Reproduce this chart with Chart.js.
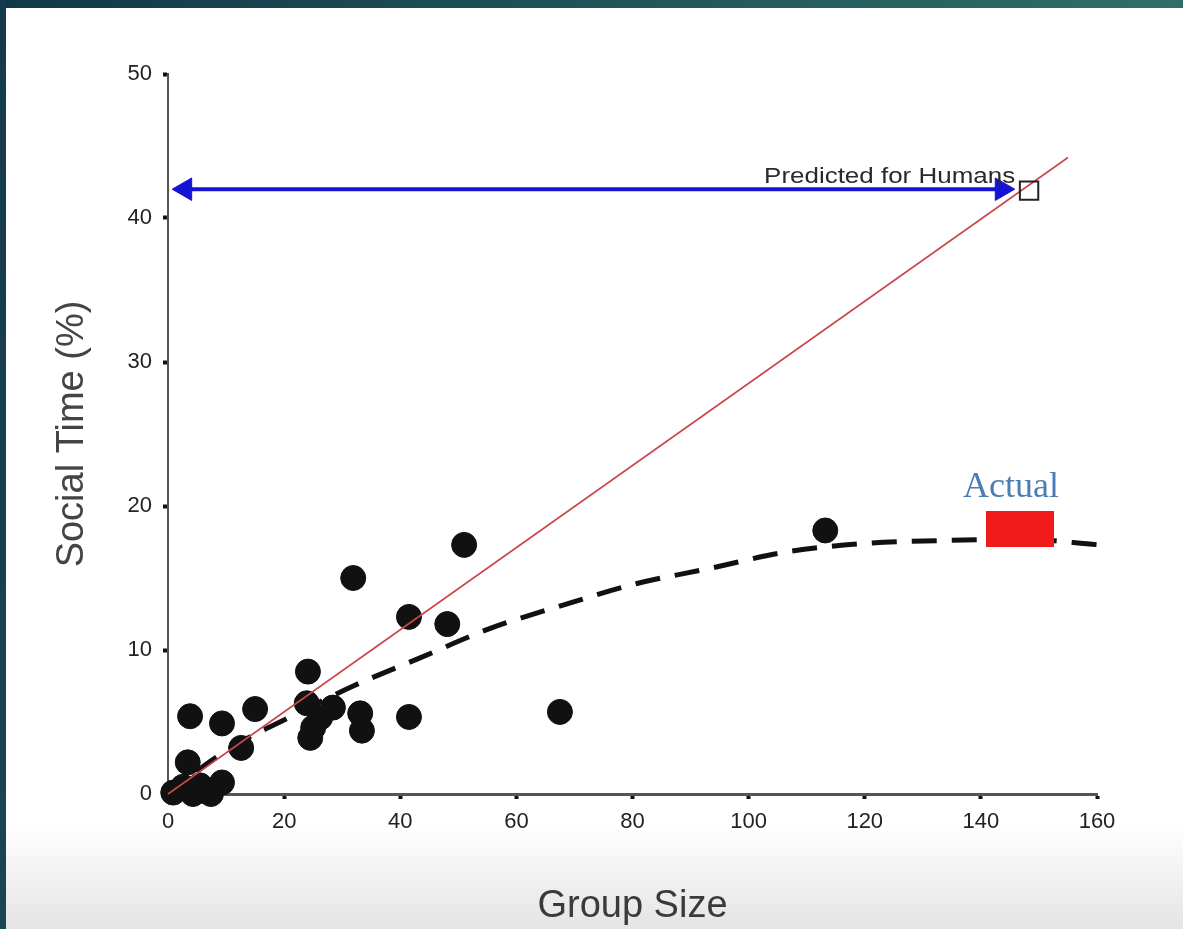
<!DOCTYPE html>
<html>
<head>
<meta charset="utf-8">
<script src="https://cdn.jsdelivr.net/npm/chart.js@4.4.1/dist/chart.umd.min.js"></script>
<style>
html,body{margin:0;padding:0;background:#fff;overflow:hidden}
#wrap{position:relative;width:1183px;height:929px;background:linear-gradient(to bottom,#ffffff 0,#ffffff 825px,#e4e4e4 929px)}
#topband{position:absolute;left:0;top:0;width:1183px;height:8px;background:linear-gradient(to right,#113849,#2f6f68)}
#leftband{position:absolute;left:0;top:0;width:6px;height:929px;background:linear-gradient(to bottom,#133b4b,#1b4552)}
canvas{position:absolute;left:0;top:0}
</style>
</head>
<body>
<div id="wrap"><div id="topband"></div><div id="leftband"></div><canvas id="c" width="1183" height="929"></canvas></div>
<script>
// ---- data ----
const groupSize  = [0.9, 2.6, 4.3, 5.5, 6.4, 7.4, 9.3, 3.4, 3.8, 9.3, 12.6, 15.0, 24.1, 23.9, 24.5, 25.0, 26.2, 28.4, 31.9, 33.1, 33.4, 41.5, 41.5, 48.1, 51.0, 67.5, 113.2];
const socialTime = [0.1, 0.5, 0.0, 0.6, 0.2, 0.0, 0.8, 2.2, 5.4, 4.9, 3.2, 5.9, 8.5, 6.3, 3.9, 4.6, 5.3, 6.0, 15.0, 5.6, 4.4, 12.3, 5.35, 11.8, 17.3, 5.7, 18.3];

const curveX = [-0.5, 5, 12, 19.8, 31.9, 43.1, 55.5, 67.9, 80.6, 93.7, 106.4, 119.9, 133.1, 146.7, 160.5];
const curveY = [-0.2, 1.6, 3.5, 5.1, 7.5, 9.4, 11.5, 13.1, 14.6, 15.7, 16.8, 17.4, 17.6, 17.7, 17.3];

const fitX = [0, 155];
const fitY = [0, 44.2];

const arrowX = [2.96, 143.6];
const arrowY = [42.0, 42.0];

const predictedX = [148.3];
const predictedY = [41.9];

const actualX = [146.7];
const actualY = [18.4];

const xTickValues = [0, 20, 40, 60, 80, 100, 120, 140, 160];
const yTickValues = [0, 10, 20, 30, 40, 50];

const xTitle = 'Group Size';
const yTitle = 'Social Time (%)';
const predictedText = 'Predicted for Humans';
const actualText = 'Actual';

// ---- helpers ----
const pts = (xs, ys) => xs.map((v, i) => ({x: v, y: ys[i]}));

const redBox = document.createElement('canvas');
redBox.width = 68; redBox.height = 36;
(function(){ const g = redBox.getContext('2d'); g.fillStyle = '#f21b1b'; g.fillRect(0,0,68,36); })();

const notesPlugin = {
  id: 'notes',
  afterDatasetsDraw(chart) {
    const {ctx, scales: {x, y}} = chart;
    ctx.save();
    ctx.translate(x.getPixelForValue(145.9), y.getPixelForValue(42.4));
    ctx.scale(1.18, 1);
    ctx.font = '22px "Liberation Sans", Arial, sans-serif';
    ctx.fillStyle = '#2a2a2a';
    ctx.textAlign = 'right';
    ctx.textBaseline = 'alphabetic';
    ctx.fillText(predictedText, 0, 0);
    ctx.restore();

    ctx.save();
    ctx.font = '36px "Liberation Serif", "DejaVu Serif", serif';
    ctx.fillStyle = '#4a7db3';
    ctx.textAlign = 'center';
    ctx.textBaseline = 'alphabetic';
    ctx.fillText(actualText, x.getPixelForValue(145.2), y.getPixelForValue(20.6));
    ctx.restore();
  }
};

Chart.defaults.font.family = '"Liberation Sans", Arial, sans-serif';
Chart.defaults.color = '#222';

new Chart(document.getElementById('c'), {
  type: 'scatter',
  data: {
    datasets: [
      { // blue double arrow
        data: pts(arrowX, arrowY), showLine: true, borderColor: '#1414d2', borderWidth: 4,
        pointStyle: 'triangle', pointRadius: 13, pointRotation: [-90, 90],
        pointBackgroundColor: '#1414d2', pointBorderColor: '#1414d2', pointBorderWidth: 1
      },
      { // predicted open square
        data: pts(predictedX, predictedY), pointStyle: 'rect', pointRadius: 13,
        pointBackgroundColor: 'rgba(0,0,0,0)', pointBorderColor: '#222', pointBorderWidth: 2
      },
      { // actual red box
        data: pts(actualX, actualY), pointStyle: redBox, pointRadius: 10
      },
      { // linear fit
        data: pts(fitX, fitY), showLine: true, borderColor: '#c8474a', borderWidth: 1.6, pointRadius: 0
      },
      { // dashed curve
        data: pts(curveX, curveY), showLine: true, borderColor: '#111', borderWidth: 5,
        borderDash: [25, 15], tension: 0.4, cubicInterpolationMode: 'monotone', pointRadius: 0, borderCapStyle: 'butt'
      },
      { // species points
        data: pts(groupSize, socialTime), pointRadius: 12.5, pointBackgroundColor: '#111', pointBorderColor: '#111', pointBorderWidth: 1
      }
    ]
  },
  options: {
    responsive: false,
    animation: false,
    devicePixelRatio: 1,
    clip: false,
    events: [],
    layout: { padding: { left: 0, right: 86, top: 74, bottom: 0 } },
    plugins: { legend: { display: false }, tooltip: { enabled: false } },
    scales: {
      x: {
        type: 'linear', min: 0, max: 160,
        afterBuildTicks: s => { s.ticks = xTickValues.map(v => ({value: v})); },
        afterFit: s => { s.height = 135; },
        grid: { drawOnChartArea: false, drawTicks: true, tickLength: 5, tickWidth: 4, tickColor: '#111' },
        border: { display: true, color: '#555', width: 3 },
        ticks: { padding: 10, font: { size: 22 }, color: '#222', maxRotation: 0 },
        title: { display: true, text: xTitle, font: { size: 38 }, color: '#3a3a3a', padding: { top: 0, bottom: 0 } }
      },
      y: {
        type: 'linear', min: 0, max: 50,
        afterBuildTicks: s => { s.ticks = yTickValues.map(v => ({value: v})); },
        afterFit: s => { s.width = 168; },
        grid: { drawOnChartArea: false, drawTicks: true, tickLength: 5, tickWidth: 4, tickColor: '#111' },
        border: { display: true, color: '#555', width: 2 },
        ticks: { padding: 11, font: { size: 22 }, color: '#222' },
        title: { display: true, text: yTitle, font: { size: 38 }, color: '#444', padding: { top: 50, bottom: 0 } }
      }
    }
  },
  plugins: [notesPlugin]
});
</script>
</body>
</html>
